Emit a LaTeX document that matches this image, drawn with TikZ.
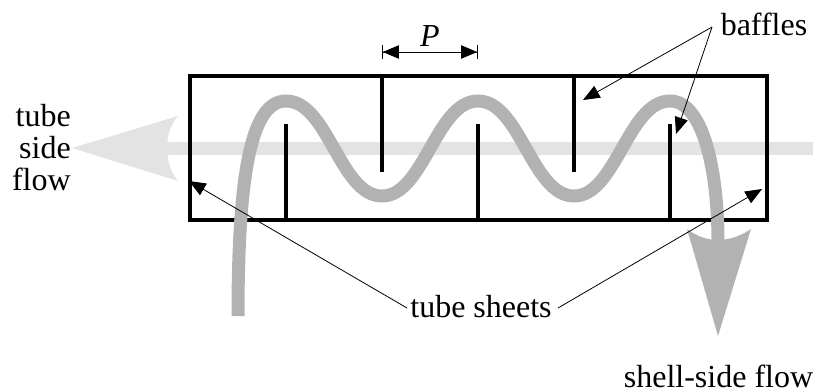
\documentclass[tikz,border=0pt]{standalone}
\usepackage{fontspec}
\setmainfont{Liberation Serif}
\usetikzlibrary{arrows.meta}

\tikzset{
    label text/.style={font=\fontsize{24}{24}\selectfont, inner sep=0pt},
    pointer/.style={line width=0.6pt, -{Stealth[inset=0pt,length=12.5pt,width=10pt]}},
    wall/.style={line width=3pt},
}

\begin{document}
\begin{tikzpicture}[x=0.75pt, y=-0.75pt]
    \def\boxTop{76.5}
    \def\boxBottom{219.5}

    \definecolor{shellColour}{HTML}{B2B2B2}
    \definecolor{tubeColour}{HTML}{E3E3E3}

    \useasboundingbox (0,0) rectangle (813,392);

    % Tube side flow
    \fill[tubeColour] (165,142) rectangle (813,155);
    \fill[tubeColour] (72,148) -- (178,116) .. controls (170,125) and (167,137) .. (167,148)
        .. controls (167,159) and (170,171) .. (178,181) -- cycle;

    % Shell and tube sheets
    \draw[wall] (190,\boxTop) rectangle (767,\boxBottom);

    % Baffles
    \foreach \x in {382,574}
        \draw[wall] (\x,\boxTop) -- (\x,172);
    \foreach \x in {286,478,670}
        \draw[wall] (\x,\boxBottom) -- (\x,124);

    % Shell side flow
    \draw[shellColour, line width=9.75pt] (238,316) .. controls (238,170) and (252,101) .. (286,101)
        .. controls (328,101) and (340,196) .. (382,196)
        .. controls (424,196) and (436,101) .. (478,101)
        .. controls (520,101) and (532,196) .. (574,196)
        .. controls (616,196) and (628,101) .. (670,101)
        .. controls (703,101) and (718,170) .. (718,242);
    \fill[shellColour] (718,336) -- (687,229) .. controls (696,236) and (707,240) .. (718,240)
        .. controls (729,240) and (741,236) .. (751,229) -- cycle;

    % Labels
    \node[label text, align=right, anchor=east] (tubeflow) at (71,148) {tube\\side\\flow};
    \node[label text] (pitch) at (430,36) {\textit{P}};
    \node[label text] (baffles) at (764,24) {baffles};
    \node[label text] (sheets) at (481,307) {tube sheets};
    \node[label text] (shellflow) at (718.5,376) {shell-side flow};

    % Pitch dimension
    \coordinate (pitchL) at (382,52);
    \coordinate (pitchR) at (478,52);
    \draw[line width=0.6pt, {Bar[width=10.5pt]Stealth[inset=0pt,length=12pt,width=10pt]}-{Stealth[inset=0pt,length=12pt,width=10pt]Bar[width=10.5pt]}] (pitchL) -- (pitchR);

    % Pointers
    \coordinate (baffleA) at (583,100);
    \coordinate (baffleB) at (676,134);
    \coordinate (sheetL) at (189,181);
    \coordinate (sheetR) at (762,189);
    \coordinate (bafflesOut) at (712,27);
    \coordinate (sheetsOutL) at (407,308);
    \coordinate (sheetsOutR) at (558,308);
    \draw[pointer] (bafflesOut) -- (baffleA);
    \draw[pointer] (bafflesOut) -- (baffleB);
    \draw[pointer] (sheetsOutL) -- (sheetL);
    \draw[pointer] (sheetsOutR) -- (sheetR);

\end{tikzpicture}
\end{document}
